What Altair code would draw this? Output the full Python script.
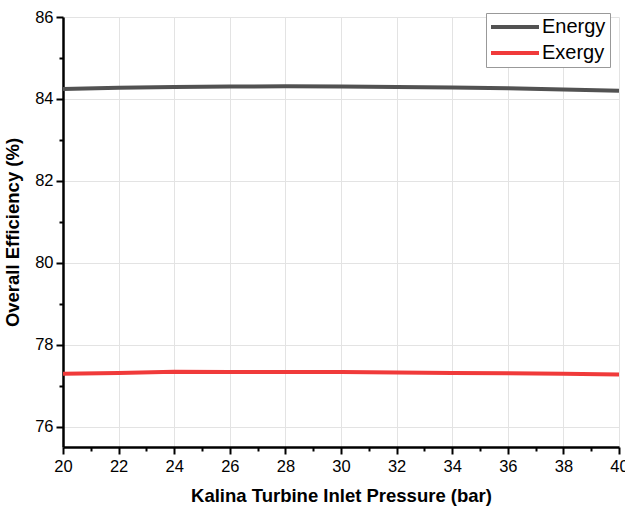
import altair as alt
import pandas as pd

# Kalina turbine inlet pressure (bar)
pressure = [20, 22, 24, 26, 28, 30, 32, 34, 36, 38, 40]
# Overall efficiencies (%)
energy = [84.24, 84.27, 84.29, 84.30, 84.31, 84.30, 84.29, 84.28, 84.26, 84.23, 84.20]
exergy = [77.29, 77.31, 77.34, 77.33, 77.33, 77.33, 77.32, 77.31, 77.30, 77.29, 77.27]
series = ["Energy", "Exergy"]
colors = ["#525252", "#f03a3a"]

x_ticks = list(range(20, 41))
y_ticks = list(range(76, 87))

rows = []
for name, vals in zip(series, [energy, exergy]):
    for p, v in zip(pressure, vals):
        rows.append({"Pressure": p, "Efficiency": v, "Series": name})
df = pd.DataFrame(rows)

odd_test = "datum.value % 2 !== 0"


def make_axis(values, title, title_pad, label_pad):
    # major ticks on even values (labelled, with grid), minor ticks on odd values
    return alt.Axis(
        values=values,
        labelExpr="datum.value % 2 === 0 ? datum.label : ''",
        labelFlush=False, labelOverlap=False,
        title=title,
        titleFontWeight="bold", titleFontSize=18.5, titlePadding=title_pad,
        labelFontSize=16.5, labelPadding=label_pad, labelColor="black",
        titleColor="black",
        domainColor="black", domainWidth=2.5,
        tickColor="black", tickWidth=2,
        tickSize={"condition": {"test": odd_test, "value": 4}, "value": 7},
        grid=True, gridColor="#e3e3e3", gridWidth=1,
        gridOpacity={"condition": {"test": odd_test, "value": 0}, "value": 1},
    )


chart = alt.Chart(df).mark_line(strokeWidth=4, clip=True).encode(
    x=alt.X("Pressure:Q", scale=alt.Scale(domain=[20, 40], nice=False),
            axis=make_axis(x_ticks, "Kalina Turbine Inlet Pressure (bar)", 12, 4)),
    y=alt.Y("Efficiency:Q", scale=alt.Scale(domain=[75.5, 86], nice=False, zero=False),
            axis=make_axis(y_ticks, "Overall Efficiency (%)", 12, 3)),
    color=alt.Color(
        "Series:N",
        scale=alt.Scale(domain=series, range=colors),
        legend=alt.Legend(
            title=None, orient="none", legendX=423, legendY=-4,
            symbolType="M-1.5,0H6.5", symbolSize=144, symbolStrokeWidth=4,
            labelOffset=32, labelFontSize=20, labelColor="black",
            strokeColor="#999999", padding=4, rowPadding=6,
            fillColor="white",
        ),
    ),
).properties(
    width=556, height=430,
    autosize=alt.AutoSizeParams(type="none"),
    padding={"left": 63, "top": 17, "right": 6, "bottom": 63},
).configure(
    font="Liberation Sans",
).configure_view(
    stroke=None,
)

chart.save("out.html", embed_options={"renderer": "svg", "actions": False})
